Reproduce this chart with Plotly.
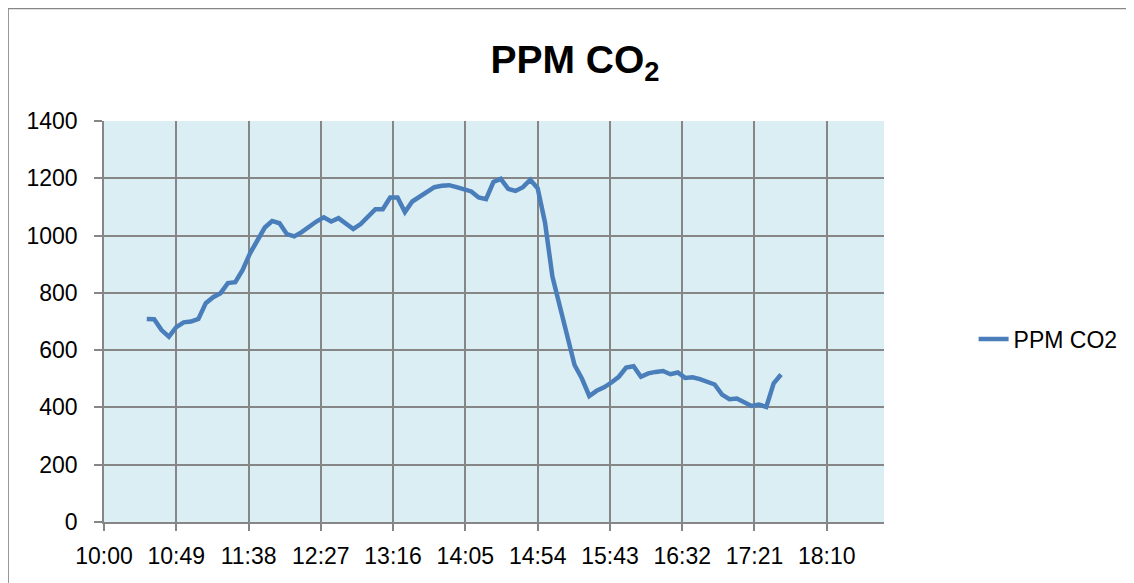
import plotly.graph_objects as go
import pandas as pd

# Data (time of day, CO2 ppm)
times = [
    "10:29", "10:34", "10:39", "10:44", "10:49", "10:54", "10:59", "11:04", "11:09", "11:14",
    "11:19", "11:24", "11:29", "11:34", "11:39", "11:44", "11:49", "11:54", "11:59", "12:04",
    "12:09", "12:14", "12:19", "12:24", "12:29", "12:34", "12:39", "12:44", "12:49", "12:54",
    "12:59", "13:04", "13:09", "13:14", "13:19", "13:24", "13:29", "13:34", "13:39", "13:44",
    "13:49", "13:54", "13:59", "14:04", "14:09", "14:14", "14:19", "14:24", "14:29", "14:34",
    "14:39", "14:44", "14:49", "14:54", "14:59", "15:04", "15:09", "15:14", "15:19", "15:24",
    "15:29", "15:34", "15:39", "15:44", "15:49", "15:54", "15:59", "16:04", "16:09", "16:14",
    "16:19", "16:24", "16:29", "16:34", "16:39", "16:44", "16:49", "16:54", "16:59", "17:04",
    "17:09", "17:14", "17:19", "17:24", "17:29", "17:34", "17:39",
]
ppm_co2 = [
    709, 708, 670, 647, 680, 697, 700, 709, 764, 785,
    799, 834, 837, 880, 938, 985, 1028, 1051, 1043, 1005,
    997, 1012, 1031, 1049, 1064, 1049, 1061, 1040, 1023, 1040,
    1066, 1092, 1092, 1133, 1133, 1082, 1119, 1136, 1154, 1169,
    1174, 1176, 1169, 1163, 1154, 1133, 1127, 1187, 1198, 1163,
    1156, 1169, 1195, 1165, 1045, 857, 752, 640, 548, 501,
    440, 458, 470, 487, 507, 539, 544, 507, 519, 524,
    527, 516, 522, 503, 505, 499, 490, 480, 445, 429,
    431, 416, 405, 410, 402, 484, 515,
]
tick_labels = ["10:00", "10:49", "11:38", "12:27", "13:16", "14:05",
               "14:54", "15:43", "16:32", "17:21", "18:10"]
y_ticks = [0, 200, 400, 600, 800, 1000, 1200, 1400]

day = "2024-01-01 "
x = pd.to_datetime([day + t for t in times])
tickvals = pd.to_datetime([day + t for t in tick_labels])
x_start = pd.Timestamp(day + "10:00")
x_end = pd.Timestamp(day + "18:48:48")

W, H = 1134, 583
OFF = 8  # page body margin shifts the figure by this many pixels
# target plot area in screen pixels
px0, px1, py0, py1 = 103.5, 884.3, 121.0, 521.7
L = px0 - OFF
T = py0 - OFF
R = W - (px1 - OFF)
B = H - (py1 - OFF)
pw = W - L - R
ph = H - T - B


def xp(sx):
    return (sx - px0) / pw


def yp(sy):
    return (py1 - sy) / ph


grid = "#868686"
fig = go.Figure()
fig.add_trace(go.Scatter(
    x=x, y=ppm_co2, mode="lines", name="PPM CO2",
    line=dict(color="#4A7EBB", width=4.5),
))

fig.update_layout(
    width=W, height=H,
    margin=dict(l=L, r=R, t=T, b=B, pad=0, autoexpand=False),
    paper_bgcolor="white",
    plot_bgcolor="#DAEEF3",
    font=dict(family="Liberation Sans, Arial, sans-serif", color="black", size=23),
    title=dict(
        text="<b>PPM CO<sub>2</sub></b>",
        x=(575 - OFF) / W, xanchor="center", xref="container",
        y=1 - (59 - OFF) / H, yanchor="middle", yref="container",
        font=dict(size=39, color="black"),
    ),
    showlegend=True,
    legend=dict(
        x=xp(974), xanchor="left",
        y=yp(339), yanchor="middle",
        font=dict(size=23),
        bgcolor="rgba(0,0,0,0)",
    ),
    xaxis=dict(
        type="date",
        range=[x_start, x_end],
        tickvals=tickvals, ticktext=tick_labels,
        showgrid=True, gridcolor=grid, gridwidth=1.5,
        showline=True, linecolor=grid, linewidth=1.5,
        ticks="outside", ticklen=7, tickcolor=grid, tickwidth=1.5,
        ticklabelstandoff=6,
        zeroline=False, tickfont=dict(size=23),
    ),
    yaxis=dict(
        range=[0, 1400],
        tickvals=y_ticks,
        showgrid=True, gridcolor=grid, gridwidth=1.5,
        showline=True, linecolor=grid, linewidth=1.5,
        ticks="outside", ticklen=8, tickcolor=grid, tickwidth=1.5,
        ticklabelstandoff=12,
        zeroline=False, tickfont=dict(size=23),
    ),
)

# outer chart border (partially visible in the reference)
fig.add_shape(
    type="rect", xref="paper", yref="paper",
    x0=xp(7.5), x1=xp(W + 30),
    y0=yp(H + 30), y1=yp(8.5),
    line=dict(color=grid, width=1.5), fillcolor="rgba(0,0,0,0)", layer="below",
)

fig.write_html("out.html")
